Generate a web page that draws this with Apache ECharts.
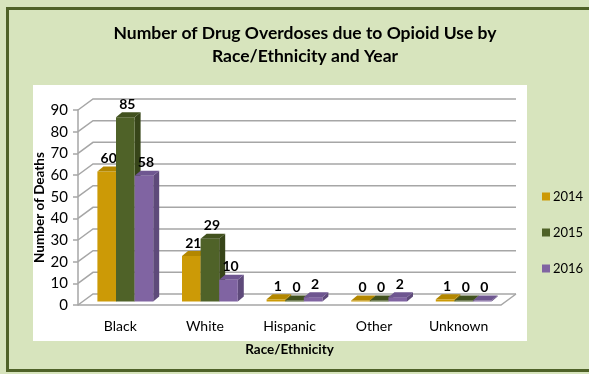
<!DOCTYPE html>
<html>
<head>
<meta charset="utf-8">
<script src="https://cdn.jsdelivr.net/npm/echarts@6/dist/echarts.min.js"></script>
<style>
  html, body { margin: 0; padding: 0; background: #D7E4BD; }
  #chart { width: 589px; height: 374px; }
</style>
</head>
<body>
<div id="chart"></div>
<script>
// Opioid overdose deaths by race/ethnicity, 2014-2016
const categories = ['Black', 'White', 'Hispanic', 'Other', 'Unknown'];
const years = ['2014', '2015', '2016'];
const deaths2014 = [60, 21, 1, 0, 1];
const deaths2015 = [85, 29, 0, 0, 0];
const deaths2016 = [58, 10, 2, 2, 0];
const yTicks = [0, 10, 20, 30, 40, 50, 60, 70, 80, 90];

const FONT = 'Lato, "Open Sans", sans-serif';

// pseudo-3D geometry (pixels)
const WALL_DX = 15, WALL_DY = -11;   // depth of the back wall
const BAR_SHIFT_X = 5, BAR_SHIFT_Y = -3.5; // bars sit inside the box
const BAR_DX = 6, BAR_DY = -5;       // depth of each column
const BAR_W = 18.6;

const palette = [
  { front: '#CC9A06', side: '#9C7600', top: '#B38700' },
  { front: '#4F6228', side: '#374519', top: '#42521F' },
  { front: '#8064A2', side: '#5E4A7A', top: '#6E5690' }
];
const seriesValues = [deaths2014, deaths2015, deaths2016];

function columnRenderer(idx) {
  const c = palette[idx];
  return function (params, api) {
    const cat = api.value(0), val = api.value(1);
    const base = api.coord([cat, 0]);
    const top = api.coord([cat, val]);
    const x0 = base[0] + BAR_SHIFT_X + (idx - 1.5) * BAR_W;
    const yb = base[1] + BAR_SHIFT_Y;
    let yt = top[1] + BAR_SHIFT_Y;
    if (yb - yt < 1) yt = yb - 1;
    const w = BAR_W;
    return {
      type: 'group',
      children: [
        { type: 'polygon', shape: { points: [[x0 + w, yt], [x0 + w + BAR_DX, yt + BAR_DY], [x0 + w + BAR_DX, yb + BAR_DY], [x0 + w, yb]] },
          style: { fill: c.side } },
        { type: 'rect', shape: { x: x0, y: yt, width: w, height: yb - yt }, style: { fill: c.front } },
        { type: 'polygon', shape: { points: [[x0, yt], [x0 + BAR_DX, yt + BAR_DY], [x0 + w + BAR_DX, yt + BAR_DY], [x0 + w, yt]] },
          style: { fill: c.top } },
        { type: 'text', x: x0 + w / 2 + 2, y: yt - 13,
          style: { text: String(val), fill: '#000', font: 'bold 14px ' + FONT, align: 'center', verticalAlign: 'middle' } }
      ]
    };
  };
}

function wallRenderer(params, api) {
  const cs = params.coordSys;
  const v = api.value(1);
  const y = api.coord([0, v])[1];
  const stroke = { stroke: '#A6A6A6', lineWidth: 1.5, fill: null };
  const children = [
    { type: 'polyline', shape: { points: [[cs.x, y], [cs.x + WALL_DX, y + WALL_DY], [cs.x + cs.width + WALL_DX, y + WALL_DY]] }, style: stroke }
  ];
  if (v === 0) {
    children.push({ type: 'polyline', shape: { points: [[cs.x, y], [cs.x + cs.width, y], [cs.x + cs.width + WALL_DX, y + WALL_DY]] }, style: stroke });
  }
  return { type: 'group', children };
}

const chart = echarts.init(document.getElementById('chart'), null, { renderer: 'canvas' });

const series = [
  {
    type: 'custom',
    silent: true,
    z: 1,
    renderItem: wallRenderer,
    data: yTicks.map(v => [0, v]),
    encode: { x: 0, y: 1 }
  }
];
years.forEach((yr, i) => {
  series.push({
    name: yr,
    type: 'custom',
    z: 2 + i,
    itemStyle: { color: palette[i].front },
    renderItem: columnRenderer(i),
    data: seriesValues[i].map((v, k) => [k, v]),
    encode: { x: 0, y: 1 }
  });
});

chart.setOption({
  backgroundColor: '#D7E4BD',
  animation: false,
  textStyle: { fontFamily: FONT },
  title: {
    text: 'Number of Drug Overdoses due to Opioid Use by\nRace/Ethnicity and Year',
    left: 300,
    top: 17,
    textAlign: 'center',
    textStyle: { fontFamily: FONT, fontSize: 17.5, fontWeight: 'bold', color: '#000', lineHeight: 23 }
  },
  graphic: [
    { type: 'rect', z: -10, shape: { x: 7.5, y: 8.5, width: 600, height: 362 },
      style: { fill: '#D7E4BD', stroke: '#4F6228', lineWidth: 3 } },
    { type: 'rect', z: -9, shape: { x: 33, y: 85, width: 494, height: 256 },
      style: { fill: '#FFFFFF' } }
  ],
  legend: {
    data: years,
    orient: 'vertical',
    left: 537,
    top: 185,
    itemWidth: 8,
    itemHeight: 8,
    itemGap: 23,
    icon: 'rect',
    textStyle: { fontFamily: FONT, fontSize: 13, color: '#000', padding: [0, 0, 0, -2] }
  },
  grid: { left: 78, top: 110, width: 423, height: 195 },
  xAxis: {
    type: 'category',
    data: categories,
    axisLine: { show: false },
    axisTick: { show: false },
    axisLabel: { fontFamily: FONT, fontSize: 14, color: '#000', margin: 14 },
    name: 'Race/Ethnicity',
    nameLocation: 'middle',
    nameGap: 38,
    nameMoveOverlap: false,
    nameTextStyle: { fontFamily: FONT, fontSize: 13.5, fontWeight: 'bold', color: '#000' }
  },
  yAxis: {
    type: 'value',
    min: 0,
    max: 90,
    interval: 10,
    splitLine: { show: false },
    axisLine: { show: true, lineStyle: { color: '#A6A6A6', width: 1.5 } },
    axisTick: { show: true, length: 5, lineStyle: { color: '#A6A6A6', width: 1.5 } },
    axisLabel: { fontFamily: FONT, fontSize: 15, color: '#000', margin: 10 },
    name: 'Number of Deaths',
    nameLocation: 'middle',
    nameRotate: 90,
    nameGap: 31,
    nameMoveOverlap: false,
    nameTextStyle: { fontFamily: FONT, fontSize: 13.5, fontWeight: 'bold', color: '#000' }
  },
  series
});
</script>
</body>
</html>
